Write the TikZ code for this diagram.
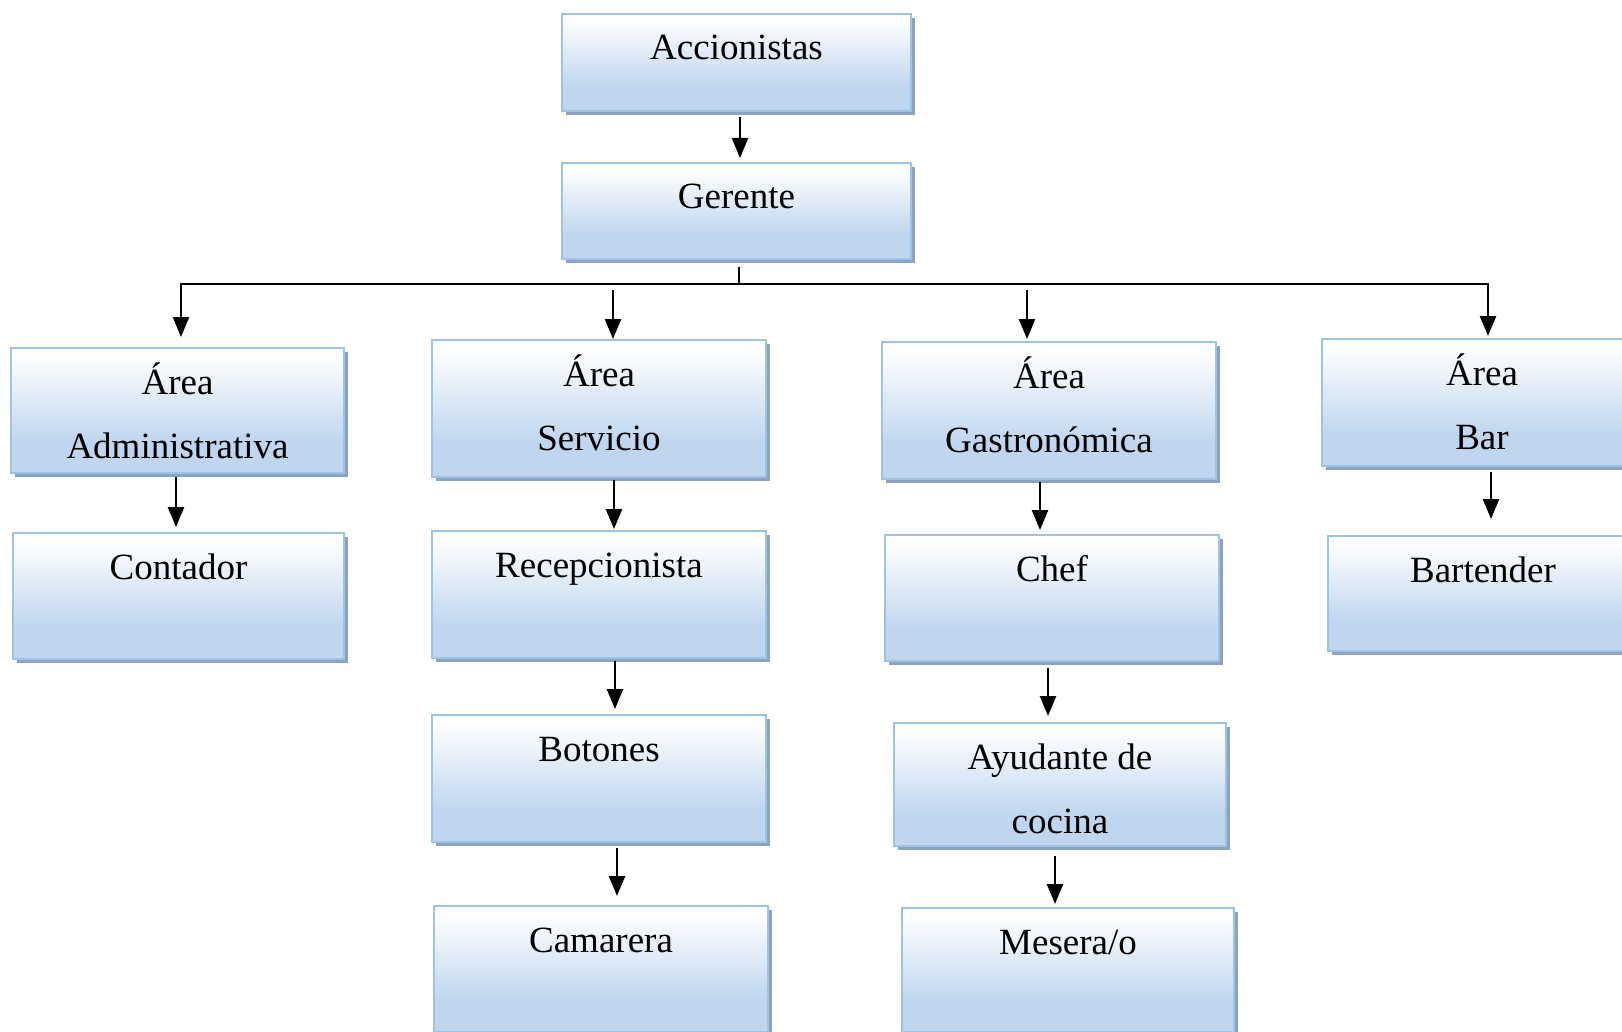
\documentclass[tikz,border=0pt]{standalone}
\usepackage{fontspec}
\setmainfont{Liberation Serif}
\usetikzlibrary{arrows.meta,shadows}
\definecolor{boxblue}{RGB}{192,214,239}
\definecolor{boxborder}{RGB}{157,195,230}
\definecolor{shadowc}{RGB}{140,162,190}
\pgfdeclareverticalshading{boxshade}{100bp}{color(0bp)=(boxblue); color(38bp)=(boxblue); color(72bp)=(white); color(100bp)=(white)}
\newcommand{\bx}[3]{\parbox[c][#2][t]{#1}{\centering\rule{0pt}{23pt}#3}}
\tikzset{
  orgbox/.style={draw=boxborder, line width=1pt, shading=boxshade, inner sep=0pt, anchor=north west,
    drop shadow={shadow xshift=1.8pt, shadow yshift=-1.8pt, fill=shadowc, opacity=1},
    font=\fontsize{18.5}{32}\selectfont},
  arr/.style={line width=1.3pt, -{Triangle[width=8pt,length=10pt]}},
  bus/.style={line width=1pt, line join=miter}
}
\begin{document}
\begin{tikzpicture}[x=0.5pt,y=-0.5pt]
\useasboundingbox (0,0) rectangle (1622,1032);
% boxes
\node[orgbox] (acc) at (561,13)  {\bx{174.5pt}{48.5pt}{Accionistas}};
\node[orgbox] (ger) at (561,162) {\bx{174.5pt}{48pt}{Gerente}};
\node[orgbox] (adm) at (10,347)  {\bx{166.5pt}{62.5pt}{Área\\Administrativa}};
\node[orgbox] (ser) at (431,339) {\bx{167pt}{68.5pt}{Área\\Servicio}};
\node[orgbox] (gas) at (881,341) {\bx{167pt}{68.5pt}{Área\\Gastronómica}};
\node[orgbox] (bar) at (1321,338) {\bx{160pt}{63.5pt}{Área\\Bar}};
\node[orgbox] (con) at (12,532)  {\bx{165.5pt}{63pt}{Contador}};
\node[orgbox] (rec) at (431,530) {\bx{167pt}{63.5pt}{Recepcionista}};
\node[orgbox] (bot) at (431,714) {\bx{167pt}{63.5pt}{Botones}};
\node[orgbox] (cam) at (433,905) {\bx{167pt}{63pt}{Camarera}};
\node[orgbox] (chef) at (884,534) {\bx{167pt}{63pt}{Chef}};
\node[orgbox] (ayu) at (893,722) {\bx{166pt}{61.5pt}{Ayudante de\\cocina}};
\node[orgbox] (mes) at (901,907) {\bx{166pt}{62pt}{Mesera/o}};
\node[orgbox] (bt) at (1327,535) {\bx{155pt}{57.5pt}{Bartender}};
% bus
\coordinate (bus) at (739,284);
\draw[arr, shorten <=2.5pt, shorten >=2pt] ([xshift=1.75pt]acc.south) -- ([xshift=1.75pt]acc.south |- ger.north);
\draw[bus, shorten <=3.5pt] (bus |- ger.south) -- (bus);
\draw[arr, line join=miter, shorten >=5pt] (bus) -| ([xshift=1.75pt]adm.north);
\draw[arr, line join=miter, shorten >=1pt] (bus) -| ([xshift=3pt]bar.north);
\draw[arr, shorten <=3pt] ([xshift=7pt]ser.north |- bus) -- ([xshift=7pt]ser.north);
\draw[arr, shorten <=3pt, shorten >=1pt] ([xshift=-11pt]gas.north |- bus) -- ([xshift=-11pt]gas.north);
% chains
\draw[arr, shorten <=1.5pt, shorten >=2.5pt] ([xshift=-0.75pt]adm.south) -- ([xshift=-0.75pt]adm.south |- con.north);
\draw[arr, shorten <=1pt, shorten >=0.5pt] ([xshift=7.5pt]ser.south) -- ([xshift=7.5pt]ser.south |- rec.north);
\draw[arr, shorten <=1pt, shorten >=2.5pt] ([xshift=8pt]rec.south) -- ([xshift=8pt]rec.south |- bot.north);
\draw[arr, shorten <=2.5pt, shorten >=4.5pt] ([xshift=9pt]bot.south) -- ([xshift=9pt]bot.south |- cam.north);
\draw[arr, shorten <=1pt, shorten >=2pt] ([xshift=-4.5pt]gas.south) -- ([xshift=-4.5pt]gas.south |- chef.north);
\draw[arr, shorten <=3pt, shorten >=3pt] ([xshift=-2pt]chef.south) -- ([xshift=-2pt]chef.south |- ayu.north);
\draw[arr, shorten <=4.5pt, shorten >=1.5pt] ([xshift=-2.5pt]ayu.south) -- ([xshift=-2.5pt]ayu.south |- mes.north);
\draw[arr, shorten <=2.5pt, shorten >=8pt] ([xshift=4.5pt]bar.south) -- ([xshift=4.5pt]bar.south |- bt.north);
\end{tikzpicture}
\end{document}
